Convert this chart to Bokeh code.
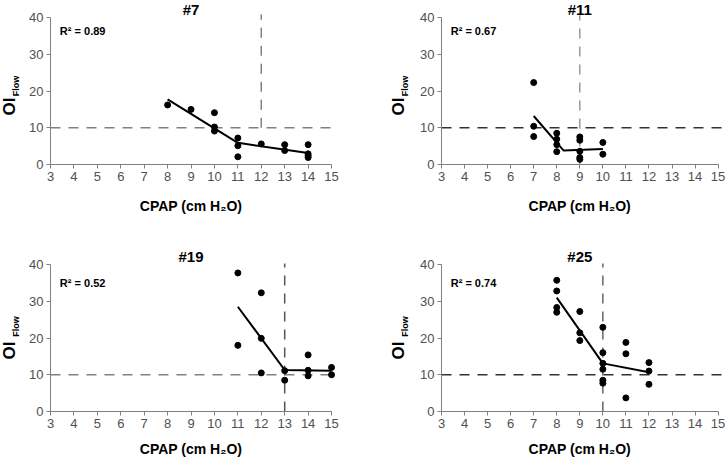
import math
from bokeh.plotting import figure
from bokeh.models import Range1d, FixedTicker, Label
from bokeh.layouts import column, row
from bokeh.embed import file_html
from bokeh.resources import INLINE

# ---------------- data ----------------
titles = ["#7", "#11", "#19", "#25"]
r2_texts = ["R\u00b2 = 0.89", "R\u00b2 = 0.67", "R\u00b2 = 0.52", "R\u00b2 = 0.74"]
x_label = "CPAP (cm H\u2082O)"
x_ticks = [3, 4, 5, 6, 7, 8, 9, 10, 11, 12, 13, 14, 15]
y_ticks = [0, 10, 20, 30, 40]
oi_threshold = 10
cpap_optimal = [12, 9, 13, 10]
vline_low = [10, 0, 0, 0]
vline_high = [40.8, 40.6, 40.3, 40.3]
hline_end = [15, 15.5, 15, 15.5]

p7_cpap = [8, 9, 10, 10, 10, 11, 11, 11, 12, 13, 13, 14, 14, 14, 14]
p7_oi = [16.2, 15.0, 14.1, 10.2, 9.1, 7.2, 5.1, 2.1, 5.6, 5.4, 3.8, 5.4, 2.9, 2.4, 1.9]
p7_fit_cpap = [8, 11, 14]
p7_fit_oi = [17.7, 5.9, 3.1]

p11_cpap = [7, 7, 7, 8, 8, 8, 8, 9, 9, 9, 9, 9, 10, 10]
p11_oi = [22.3, 10.4, 7.6, 8.5, 6.9, 5.4, 3.5, 7.5, 6.6, 3.6, 1.9, 1.4, 6.0, 2.8]
p11_fit_cpap = [7, 8.3, 10]
p11_fit_oi = [13.2, 3.8, 4.2]

p19_cpap = [11, 11, 12, 12, 12, 13, 13, 14, 14, 14, 15, 15]
p19_oi = [37.7, 18.0, 32.3, 19.9, 10.5, 11.1, 8.5, 15.4, 11.2, 9.7, 12.0, 10.0]
p19_fit_cpap = [11, 13, 15]
p19_fit_oi = [28.5, 11.3, 11.1]

p25_cpap = [8, 8, 8, 8, 9, 9, 9, 10, 10, 10, 10, 10, 10, 11, 11, 11, 12, 12, 12]
p25_oi = [35.7, 32.8, 28.3, 27.0, 27.2, 21.4, 19.3, 22.9, 16.0, 13.1, 11.5, 8.5, 7.7,
          18.8, 15.7, 3.7, 13.3, 11.0, 7.4]
p25_fit_cpap = [8, 10, 12]
p25_fit_oi = [31.0, 13.1, 10.7]

NARROW = "'Liberation Sans Narrow', 'Liberation Sans', Arial, sans-serif"
SANS = "'Liberation Sans', Arial, sans-serif"

W, H = 363, 230


def make_panel(i, cpap, oi, fit_x, fit_y, left_col, top_row, hcolor, vcolor):
    # pixel geometry of the plotting area inside each panel canvas
    if left_col:
        px3, pxu = 50.0, 23.42          # pixel of x=3, pixels per unit
    else:
        px3, pxu = 78.0, 23.05
    if top_row:
        py0, pyu = 164.0, 3.675          # pixel (from top) of y=0, pixels per unit
        oi_c, flow_c, xl_c = 106, 85.5, 205   # label centres (from top)
        title_y, r2_y = 42.2, 36.2
    else:
        py0, pyu = 181.0, 3.675
        oi_c, flow_c, xl_c = 120, 96, 218
        title_y, r2_y = 42.3, 35.0
    ox = 9 if left_col else 35

    x_range = Range1d(3 - px3 / pxu, 3 + (W - px3) / pxu)
    y_range = Range1d(-(H - py0) / pyu, py0 / pyu)
    p = figure(width=W, height=H, title=None, x_range=x_range, y_range=y_range,
               min_border=0, min_border_left=0, min_border_right=0,
               min_border_top=0, min_border_bottom=0,
               output_backend="svg", toolbar_location=None, tools="")
    p.outline_line_color = None
    p.xgrid.visible = False
    p.ygrid.visible = False
    p.background_fill_color = "white"
    p.border_fill_color = "white"

    for ax in (p.xaxis, p.yaxis):
        ax.axis_line_color = "#808080"
        ax.axis_line_width = 1
        ax.major_tick_line_color = "#808080"
        ax.major_tick_out = 4
        ax.major_tick_in = 0
        ax.minor_tick_line_color = None
        ax.minor_tick_out = 0
        ax.major_label_text_font = NARROW
        ax.major_label_text_font_size = "13px"
        ax.major_label_text_color = "#505050"
        ax.major_label_standoff = 3
    p.xaxis.ticker = FixedTicker(ticks=x_ticks)
    p.yaxis.ticker = FixedTicker(ticks=y_ticks)
    p.xaxis.bounds = (x_ticks[0], x_ticks[-1])
    p.yaxis.bounds = (y_ticks[0], y_ticks[-1])
    p.xaxis.fixed_location = y_ticks[0]
    p.yaxis.fixed_location = x_ticks[0]

    # threshold lines
    p.segment(x0=[x_ticks[0]], y0=[oi_threshold], x1=[hline_end[i]], y1=[oi_threshold],
              line_color=hcolor, line_width=1.5, line_dash="10 8")
    p.segment(x0=[cpap_optimal[i]], y0=[vline_low[i]], x1=[cpap_optimal[i]], y1=[vline_high[i]],
              line_color=vcolor, line_width=1.5, line_dash="10 8")

    # fit and points
    p.line(fit_x, fit_y, line_color="black", line_width=2)
    p.scatter(cpap, oi, size=6, fill_color="black", line_color="black")

    # title
    p.add_layout(Label(x=9, y=title_y, text=titles[i],
                       text_align="center", text_baseline="alphabetic",
                       text_font=SANS, text_font_size="15px", text_font_style="bold",
                       text_color="black"))
    # R2
    p.add_layout(Label(x=3.4, y=r2_y, text=r2_texts[i],
                       text_align="left", text_baseline="middle",
                       text_font=SANS, text_font_size="11px", text_font_style="bold",
                       text_color="black"))
    # x label
    p.add_layout(Label(x=9, y=H - xl_c, y_units="screen", text=x_label,
                       text_align="center", text_baseline="middle",
                       text_font=SANS, text_font_size="14px", text_font_style="bold",
                       text_color="black"))
    # y label "OI" with subscript "Flow"
    p.add_layout(Label(x=ox, y=H - oi_c, x_units="screen", y_units="screen", text="OI",
                       angle=math.pi / 2, text_align="center", text_baseline="middle",
                       text_font=SANS, text_font_size="17px", text_font_style="bold",
                       text_color="black"))
    p.add_layout(Label(x=ox + 6, y=H - flow_c, x_units="screen", y_units="screen", text="Flow",
                       angle=math.pi / 2, text_align="center", text_baseline="middle",
                       text_font=SANS, text_font_size="9px", text_font_style="bold",
                       text_color="black"))
    return p


p1 = make_panel(0, p7_cpap, p7_oi, p7_fit_cpap, p7_fit_oi, True, True, "#808080", "#808080")
p2 = make_panel(1, p11_cpap, p11_oi, p11_fit_cpap, p11_fit_oi, False, True, "#333333", "#999999")
p3 = make_panel(2, p19_cpap, p19_oi, p19_fit_cpap, p19_fit_oi, True, False, "#808080", "#555555")
p4 = make_panel(3, p25_cpap, p25_oi, p25_fit_cpap, p25_fit_oi, False, False, "#333333", "#666666")

layout = column(row(p1, p2), row(p3, p4))
open("out.html", "w").write(file_html(layout, INLINE))
